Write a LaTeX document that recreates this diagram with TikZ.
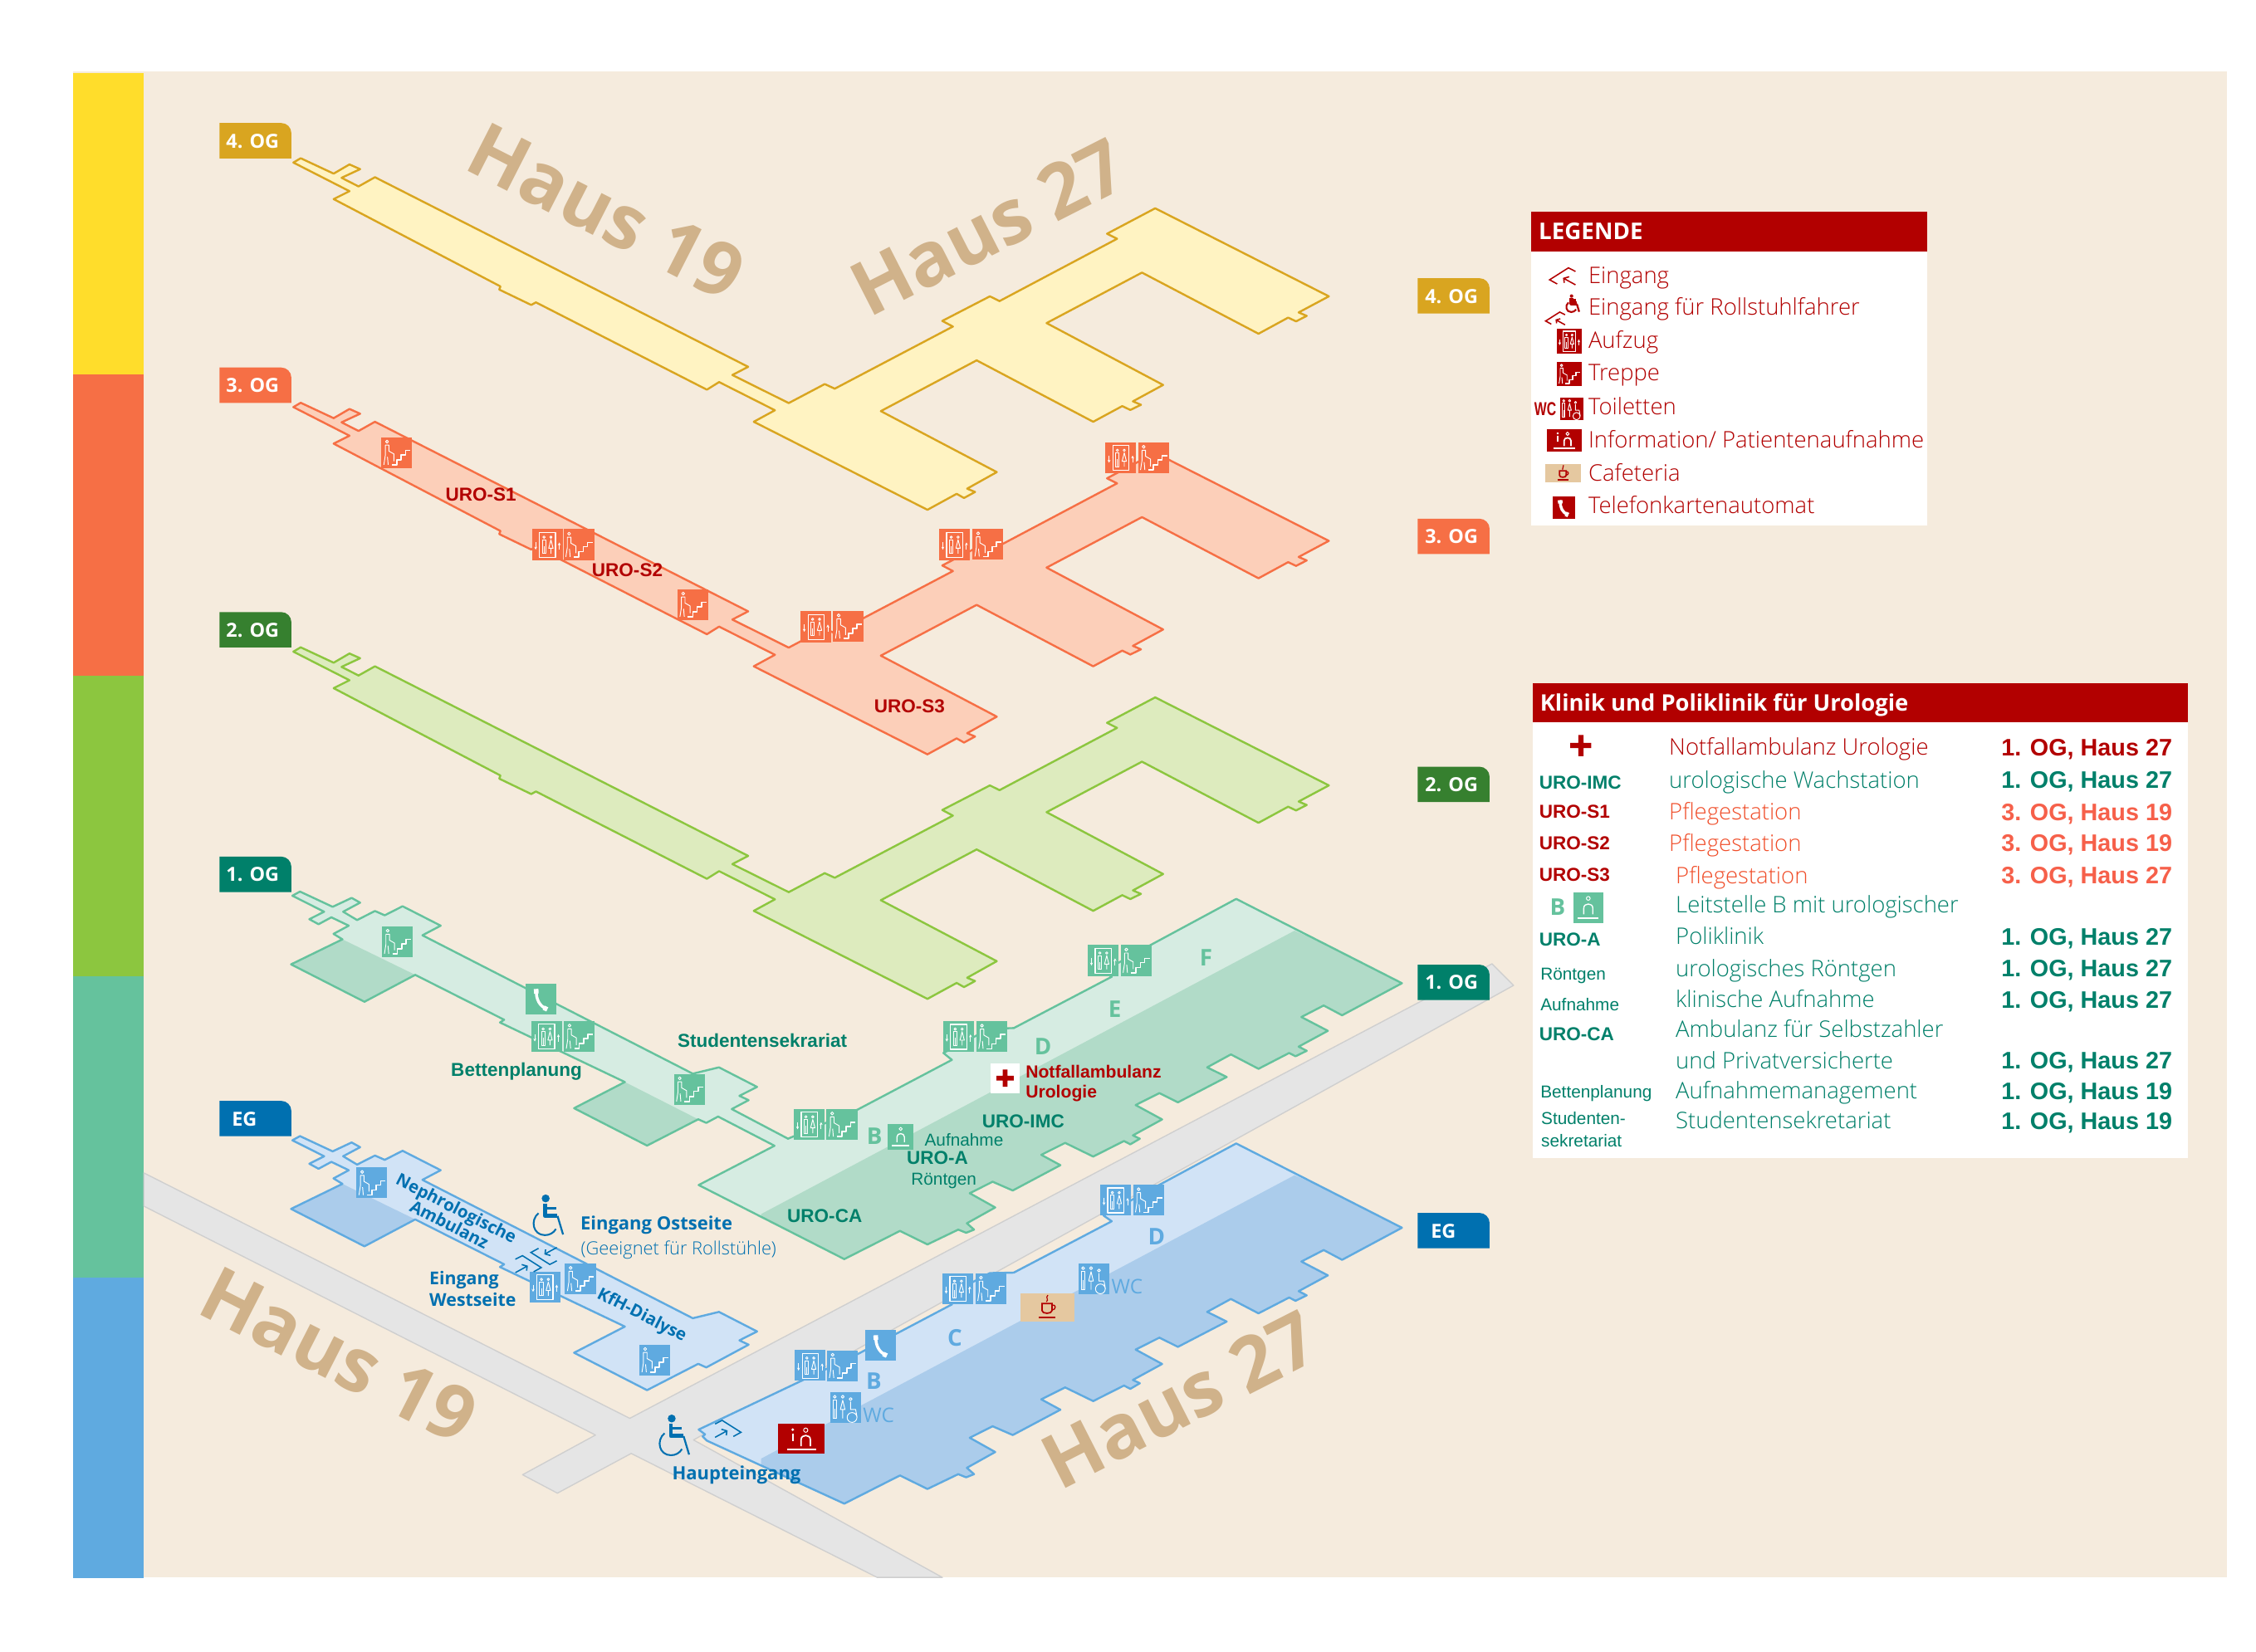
\documentclass[tikz,border=0pt]{standalone}
\usepackage{fontspec}
\setmainfont{Liberation Sans}
\newfontfamily\signfont{Open Sans}
\newfontfamily\thinfont{Open Sans Light}
\usetikzlibrary{arrows.meta}

\definecolor{paper}{HTML}{F5EBDD}
\definecolor{barfour}{HTML}{FFDD2B}
\definecolor{strokefour}{HTML}{D9A520}
\definecolor{fillfour}{HTML}{FFF3C2}
\definecolor{strokethree}{HTML}{F66F45}
\definecolor{fillthree}{HTML}{FCCFB9}
\definecolor{strokegreen}{HTML}{8CC63F}
\definecolor{tagtwo}{HTML}{36802F}
\definecolor{fillgreen}{HTML}{DDEBBE}
\definecolor{stroketeal}{HTML}{65C29D}
\definecolor{tagteal}{HTML}{00806A}
\definecolor{lightteal}{HTML}{D6ECE2}
\definecolor{darkteal}{HTML}{B1DBC8}
\definecolor{strokeblue}{HTML}{5FAAE0}
\definecolor{tagblue}{HTML}{0070B0}
\definecolor{lightblue}{HTML}{D1E3F6}
\definecolor{darkblue}{HTML}{ABCCEB}
\definecolor{signred}{HTML}{B20000}
\definecolor{nurseorange}{HTML}{F6604A}
\definecolor{nursethin}{HTML}{F04E2A}
\definecolor{hausbrown}{HTML}{D0B28A}
\definecolor{cafetan}{HTML}{E5C8A0}
\definecolor{roadfill}{HTML}{E5E5E5}
\definecolor{roadline}{HTML}{CFCFCF}

\tikzset{
	outline/.style={line width=1.4pt, line join=round},
	iconline/.style={draw=white, line width=.55pt, line join=round, fill=none},
	hausname/.style={font=\signfont\bfseries\fontsize{52.5}{60}\selectfont, text=hausbrown, inner sep=0pt},
	tagtext/.style={font=\signfont\bfseries\fontsize{13.5}{15}\selectfont, text=white, inner sep=0pt, anchor=west, text height=10pt, text depth=0pt},
	arial/.style={font=\fontsize{13}{15}\selectfont\bfseries, inner sep=0pt, text height=9.5pt, text depth=0pt},
	arialthin/.style={font=\fontsize{12}{14}\selectfont, inner sep=0pt, text height=8.6pt, text depth=0pt},
	letter/.style={font=\signfont\bfseries\fontsize{16}{18}\selectfont, inner sep=0pt},
	sign/.style={font=\signfont\bfseries\fontsize{12.7}{15}\selectfont, text=tagblue, inner sep=0pt, text height=9.5pt, text depth=0pt},
	legendrow/.style={font=\thinfont\fontsize{15.85}{18}\selectfont, text=signred, inner sep=0pt, anchor=west, text height=11pt, text depth=0pt},
	clinicrow/.style={font=\thinfont\fontsize{15.85}{18}\selectfont, inner sep=0pt, anchor=west, text height=9.5pt, text depth=0pt},
	where/.style={font=\fontsize{16.6}{18}\selectfont\bfseries, inner sep=0pt, anchor=west, text height=10.4pt, text depth=0pt},
	heading/.style={font=\signfont\bfseries\fontsize{16}{18}\selectfont, text=white, inner sep=0pt, anchor=west, text height=11.5pt, text depth=0pt},
	pics/treppe/.style={code={
		\fill[#1] (-10.7,-10.7) rectangle (10.7,10.7);
		\draw[iconline] (-6.8,-7.6) circle (1);
		\draw[iconline] (-8,-5.2) -- (-5.5,-5.2) -- (-5.5,-1) -- (-2,1) -- (-2,6) (-8,-5.2) -- (-8,2) -- (-9,8.5) (-6.5,3) -- (-6,8.5);
		\draw[iconline, line width=.9pt] (-3.5,8.5) -- (0,8.5) -- (0,5) -- (3,5) -- (3,1.5) -- (6,1.5) -- (6,-1.5) -- (9.5,-1.5);
	}},
	pics/aufzug/.style={code={
		\fill[#1] (-10.7,-10.7) rectangle (10.7,10.7);
		\draw[iconline, line width=.7pt] (-5.6,-8.5) rectangle (5.6,8.8);
		\draw[iconline] (-2.4,-5.2) circle (.8) (2.4,-5.2) circle (.8);
		\draw[iconline] (-3.6,-3.4) rectangle (-1.2,6.2) (-2.4,1) -- (-2.4,6.2);
		\draw[iconline] (2.4,-3.4) -- (.9,2.5) -- (3.9,2.5) -- cycle (2.4,2.5) -- (2.4,6.2);
		\draw[iconline, -{Stealth[length=2pt,width=2pt]}] (-8.2,-1.5) -- (-8.2,3.5);
		\draw[iconline, -{Stealth[length=2pt,width=2pt]}] (8.2,3.5) -- (8.2,-1.5);
	}},
	pics/toilette/.style={code={
		\fill[#1] (-10.7,-10.7) rectangle (10.7,10.7);
		\draw[iconline] (-7.5,-7.4) circle (1) (-2,-7.4) circle (1) (3.5,-5.8) circle (1);
		\draw[iconline] (-8.8,-5) rectangle (-6.2,7.6) (-7.5,1) -- (-7.5,7.6);
		\draw[iconline] (-2,-5) -- (-3.6,1.5) -- (-.4,1.5) -- cycle (-2,1.5) -- (-2,7.6);
		\draw[iconline] (3.5,-4) -- (3.5,1.5) -- (7,1.5) -- (8,7) (4.5,7) circle (3.4);
	}},
	pics/telefon/.style={code={
		\fill[#1] (-10.7,-10.7) rectangle (10.7,10.7);
		\draw[white, line width=2pt, line cap=round] (-3.2,-5.8) .. controls (-3.6,0) and (-.8,5) .. (3.4,6.6);
		\draw[white, line width=3.2pt] (-3.4,-7) -- (-3.2,-3.8) (1.8,6) -- (4.4,7.2);
	}},
	pics/infotheke/.style={code={
		\fill[signred] (-16,-10.5) rectangle (16,10.5);
		\fill[white] (-6,-6.4) circle (1);
		\draw[iconline, line width=1pt] (-6,-3.8) -- (-6,1.5);
		\draw[iconline] (3,-6) circle (1.5);
		\draw[iconline, line width=1pt] (-.2,5.2) -- (-.2,.5) .. controls (-.2,-3.2) and (6.2,-3.2) .. (6.2,.5) -- (6.2,5.2);
		\draw[iconline, line width=1.2pt] (-10,7.3) -- (10,7.3);
	}},
	pics/leitstelle/.style={code={
		\fill[stroketeal] (-8.8,-8.8) rectangle (8.8,8.8);
		\draw[iconline] (0,-5.4) circle (1.1);
		\draw[iconline, line width=.8pt] (-2.6,3.8) -- (-2.6,.2) .. controls (-2.6,-2.9) and (2.6,-2.9) .. (2.6,.2) -- (2.6,3.8);
		\draw[iconline, line width=1pt] (-6,6) -- (6,6);
	}},
	pics/cafe/.style={code={
		\fill[cafetan] (-18.7,-9.8) rectangle (18.7,9.8);
		\draw[signred, line width=.7pt] (.5,-8.5) .. controls (-1.5,-6.5) and (1.5,-5.5) .. (-.5,-3.8);
		\draw[signred, line width=1pt] (-3.6,-2.6) -- (-3.6,2.2) .. controls (-3.6,4.8) and (3.4,4.8) .. (3.4,2.2) -- (3.4,-2.6) -- cycle;
		\draw[signred, line width=.8pt] (3.4,-1.6) .. controls (6.4,-2.2) and (6.4,1.8) .. (3.2,2);
		\draw[signred, line width=1.2pt] (-5.6,7) -- (5.6,7);
	}},
	pics/rollstuhl/.style={code={
		\fill[#1] (-1.5,-10.8) circle (2.5);
		\draw[#1, line width=2.8pt, line join=round] (-2,-7.5) -- (-2,.3) -- (6,.3);
		\draw[#1, line width=1.8pt] (-2,-4.6) -- (5,-4.6);
		\draw[#1, line width=1.3pt] (6,.3) -- (9.5,12);
		\draw[#1, line width=1.2pt] (-6,-1.5) .. controls (-11.5,3) and (-9.5,12.4) .. (-2,12.4) .. controls (1,12.4) and (3.5,11) .. (5,8.5);
	}},
	pics/eingang/.style={code={
		\draw[#1, line width=.9pt, line join=miter] (-3.7,5.4) -- (-9,2.5) -- (4.1,-5.8) -- (9,-3.3);
		\draw[#1, line width=.9pt] (9,6) -- (.8,1.5) (1.2,4.6) -- (.8,1.5) -- (4.6,.4);
	}}
}

\newcommand{\floortag}[5]{
	\fill[#4] (#2,#3) [rounded corners=7pt] -- ++(50,0) [sharp corners] -- ++(0,24.6) -- ++(-50,0) -- cycle;
	\node[tagtext] (#1) at (#2+#5,#3+12.3) {\MakeUppercase{\tagname}};
}
\newcommand{\tagname}{}

% same floor plan on 2., 3. and 4. OG
\newcommand{\upperplan}{(203.9,113) -- (209,110) -- (231.9,120.7) -- (242.9,114.3) -- (250.3,117.6) -- (237.4,123.6) -- (249.2,129.6) -- (260.6,123.2) -- (520,255) -- (509,260.7) -- (548.2,280.2) -- (573.2,267) -- (580.2,270.2) -- (662.3,227) -- (654.9,223.1) -- (688,206) -- (694.7,209.3) -- (776.4,166) -- (769.4,162.5) -- (802.9,144.8) -- (923.6,206) -- (902.6,217.2) -- (908.2,219.6) -- (900.8,223.4) -- (895.3,220.8) -- (874.7,232) -- (793.7,189.5) -- (727.4,224.6) -- (808.4,267.6) -- (787.4,279) -- (793,281.4) -- (785.6,285) -- (780,282.3) -- (759.8,293.2) -- (678.8,250.5) -- (612.2,285.8) -- (692.8,328.2) -- (672.2,339.7) -- (677.7,342) -- (670,346.2) -- (664.9,343.3) -- (644.6,354.4) -- (523.9,293.2) -- (538.6,285.2) -- (499.8,265.6) -- (491.3,270.9) -- (372.5,210.2) -- (369.2,212) -- (347,201.3) -- (347.8,199.1) -- (231.9,138.4) -- (242.9,132.9) -- cycle}
% Haus 19, north side down to the last notch, lower side back to the tip
\newcommand{\westtop}{(203.2,622.7) -- (208.5,619.8) -- (231.2,630.4) -- (244.4,624.2) -- (250.3,627.5) -- (238.5,633.8) -- (248.2,639.6) -- (260.6,633.3) -- (267.4,636.3) -- (279.8,630) -- (306.3,643.5) -- (293.6,650.2) -- (481.5,746.4) -- (499.7,742) -- (526.2,755.6) -- (513.9,761.8) -- (520.3,764.8)}
\newcommand{\westlow}{(490.9,780.6) -- (485.3,778.1) -- (449.7,796.4) -- (399,770.4) -- (434.3,752.2) -- (347.5,710.8) -- (350.4,708.9) -- (288.6,677.7) -- (253.3,696.4) -- (202.3,670.4) -- (238,653) -- (231.8,649.2) -- (242.4,643.5) -- (230.3,637.7) -- (221.4,642.5) -- (215,639) -- (225.3,633.8) -- cycle}
% Haus 27, from the roof side round to the south corner
\newcommand{\eastbody}{(661.6,736.8) -- (655.7,732) -- (688,715) -- (704.6,714.7) -- (772.7,679) -- (767,675) -- (799.6,657) -- (859.2,624.9) -- (974.4,683.5) -- (932.8,705.8) -- (920,699) -- (904.5,707) -- (922.9,716.6) -- (902.6,727.6) -- (908.2,730.5) -- (900.4,734.3) -- (896,732) -- (874.7,743) -- (855.5,733) -- (839,742) -- (852.6,748.7) -- (818.7,766.3) -- (805.8,759.9) -- (789.3,768.2) -- (807.7,778.2) -- (787.4,789.3) -- (792.2,791.6) -- (785.6,795.5) -- (781.2,793.2) -- (759.8,804) -- (740.3,794.5) -- (723.7,802.8) -- (737,810) -- (703.9,827.6) -- (689.9,821.5) -- (674,829.5) -- (691.7,839.4) -- (672,850.4) -- (677,854.8) -- (671.5,857) -- (666,854.8) -- (644.6,865.1) -- (625.5,855.7) -- (586.8,875.3)}
\newcommand{\eastshade}{(529,844) -- (899.7,647) -- (1000,690) -- (1000,900) -- (529,900) -- cycle}

\begin{document}
\begin{tikzpicture}[x=1pt, y=-1pt]
	\useasboundingbox (0,0) rectangle (1568,1148);
	\fill[white] (0,0) rectangle (1568,1148);
	\fill[paper] (51,49.7) rectangle (1547.7,1096.6);
	\fill[barfour] (51,50.8) rectangle (100,260.3);
	\fill[strokethree] (51,260.3) rectangle (100,469.5);
	\fill[strokegreen] (51,469.5) rectangle (100,678.7);
	\fill[stroketeal] (51,678.7) rectangle (100,887.9);
	\fill[strokeblue] (51,887.9) rectangle (100,1097);

	% roads
	\filldraw[fill=roadfill, draw=roadline, line width=.8pt, line join=round] (100,815.4) -- (437.7,986) -- (1037,670) -- (1052,685) -- (482,1001) -- (655,1096.6) -- (609.7,1096.6) -- (438.7,1010.4) -- (387.4,1038) -- (363.2,1025.2) -- (413.9,997.6) -- (100,838.5) -- cycle;

	\node[hausname, rotate=-27] (hausNW) at (421.5,147) {Haus 19};
	\node[hausname, rotate=27] (hausNE) at (687,158) {Haus 27};
	\node[hausname, rotate=-27] (hausSW) at (235.5,942) {Haus 19};
	\node[hausname, rotate=27] (hausSE) at (820,973) {Haus 27};

	% upper floors
	\filldraw[outline, draw=strokefour, fill=fillfour] \upperplan;
	\filldraw[outline, draw=strokethree, fill=fillthree, shift={(0,170)}] \upperplan;
	\filldraw[outline, draw=strokegreen, fill=fillgreen, shift={(0,340)}] \upperplan;

	% 1. OG
	\fill[lightteal] \westtop -- (508.6,771) -- (547.7,791.6) -- (596,771.4) -- \eastbody -- (485.6,823.8) -- (538.3,796.5) -- (499.1,776.2) -- \westlow;
	\fill[darkteal] (238,653) -- (288.6,677.7) -- (253.3,696.4) -- (202.3,670.4) -- cycle;
	\fill[darkteal] (434.3,752.2) -- (485.3,778.1) -- (449.7,796.4) -- (399,770.4) -- cycle;
	\begin{scope}
		\clip (485.6,823.8) -- (596,771.4) -- \eastbody -- cycle;
		\fill[darkteal] \eastshade;
	\end{scope}
	\draw[outline, draw=stroketeal] \westtop -- (508.6,771) -- (547.7,791.6) -- (596,771.4) -- \eastbody -- (485.6,823.8) -- (538.3,796.5) -- (499.1,776.2) -- \westlow;

	% EG
	\begin{scope}[shift={(0,170)}]
		\fill[lightblue] \westtop -- \westlow;
		\fill[darkblue] (238,653) -- (288.6,677.7) -- (253.3,696.4) -- (202.3,670.4) -- cycle;
		\draw[outline, draw=strokeblue] \westtop -- \westlow;
		\fill[lightblue] (485.6,823.8) -- (596,771.4) -- \eastbody -- (491.3,831.5) -- (488.4,828.6) -- (490,827.1) -- cycle;
		\begin{scope}
			\clip (485.6,823.8) -- (596,771.4) -- \eastbody -- (491.3,831.5) -- cycle;
			\fill[darkblue] \eastshade;
		\end{scope}
		\draw[outline, draw=strokeblue] (485.6,823.8) -- (596,771.4) -- \eastbody -- (491.3,831.5) -- (488.4,828.6) -- (490,827.1) -- cycle;
	\end{scope}

	% floor tags
	\renewcommand{\tagname}{4. OG}
	\floortag{tagfourL}{152.5}{85.5}{strokefour}{4.5}
	\floortag{tagfourR}{985.3}{193.4}{strokefour}{5}
	\renewcommand{\tagname}{3. OG}
	\floortag{tagthreeL}{152.5}{255.5}{strokethree}{4.5}
	\floortag{tagthreeR}{985.3}{360.6}{strokethree}{5}
	\renewcommand{\tagname}{2. OG}
	\floortag{tagtwoL}{152.5}{425.5}{tagtwo}{4.5}
	\floortag{tagtwoR}{985.3}{533}{tagtwo}{5}
	\renewcommand{\tagname}{1. OG}
	\floortag{tagoneL}{152.5}{595.5}{tagteal}{4.5}
	\floortag{tagoneR}{985.3}{670.6}{tagteal}{5}
	\renewcommand{\tagname}{EG}
	\floortag{tagegL}{152.5}{765.3}{tagblue}{8.5}
	\floortag{tagegR}{985.3}{843.2}{tagblue}{9}

	% 3. OG
	\pic at (275.8,314.6) {treppe=strokethree};
	\pic at (380.5,378.6) {aufzug=strokethree};
	\pic at (402.3,378.6) {treppe=strokethree};
	\pic at (481.6,420.2) {treppe=strokethree};
	\pic at (567.2,435.7) {aufzug=strokethree};
	\pic at (589.7,435.4) {treppe=strokethree};
	\pic at (663.5,378.6) {aufzug=strokethree};
	\pic at (686.6,378.4) {treppe=strokethree};
	\pic at (779,318.2) {aufzug=strokethree};
	\pic at (801.7,318.2) {treppe=strokethree};
	\node[arial, text=signred] (uroSone) at (334.2,343.8) {URO-S1};
	\node[arial, text=signred] (uroStwo) at (436,396) {URO-S2};
	\node[arial, text=signred] (uroSthree) at (632.1,490.8) {URO-S3};

	% 1. OG
	\pic at (276.2,654.6) {treppe=stroketeal};
	\pic at (376,694.5) {telefon=stroketeal};
	\pic at (379.9,720.5) {aufzug=stroketeal};
	\pic at (402.6,720.5) {treppe=stroketeal};
	\pic at (479.2,757.2) {treppe=stroketeal};
	\pic at (562.5,781.6) {aufzug=stroketeal};
	\pic at (585.2,781.6) {treppe=stroketeal};
	\pic at (666.3,720.6) {aufzug=stroketeal};
	\pic at (689.3,720.6) {treppe=stroketeal};
	\pic at (766.8,667.7) {aufzug=stroketeal};
	\pic at (789.6,667.7) {treppe=stroketeal};
	\pic at (626,790.2) {leitstelle};
	\fill[white] (688.4,739) rectangle (708.7,760);
	\fill[signred] (696.9,743.5) rectangle (700.3,755.5) (692.6,747.8) rectangle (704.6,751.2);
	\node[letter, text=stroketeal] (bedB) at (607.8,789.7) {B};
	\node[letter, text=stroketeal] (bedD) at (724.9,727.6) {D};
	\node[letter, text=stroketeal] (bedE) at (774.9,701.6) {E};
	\node[letter, text=stroketeal] (bedF) at (838.2,665.6) {F};
	\node[arial, text=tagteal] (uroCA) at (573.2,845) {URO-CA};
	\node[arial, text=tagteal] (uroA) at (651.6,804.7) {URO-A};
	\node[arial, text=tagteal] (uroIMC) at (711.2,779.5) {URO-IMC};
	\node[arialthin, text=tagteal] (roentgen) at (656,819.5) {Röntgen};
	\node[arialthin, text=tagteal] (aufnahme) at (670,792.6) {Aufnahme};
	\node[arial, text=signred, font=\fontsize{12.2}{14}\selectfont\bfseries, anchor=west] (notfall) at (712.7,744.5) {Notfallambulanz};
	\node[arial, text=signred, font=\fontsize{12.2}{14}\selectfont\bfseries, anchor=west] (urologie) at (712.7,758.6) {Urologie};
	\node[arial, text=tagteal] (studenten) at (529.8,723.2) {Studentensekrariat};
	\node[arial, text=tagteal] (betten) at (359,743.2) {Bettenplanung};

	% EG Haus 19
	\pic at (258.5,822.3) {treppe=strokeblue};
	\pic at (378.7,894.6) {aufzug=strokeblue};
	\pic at (403.4,889) {treppe=strokeblue};
	\pic at (455.2,945.4) {treppe=strokeblue};
	\pic[scale=1.1] at (380.9,845) {rollstuhl=tagblue};
	\pic[yscale=-1] at (378,873.2) {eingang=tagblue};
	\pic[xscale=-1] at (367.2,878.7) {eingang=tagblue};
	\node[sign, rotate=-27, font=\signfont\bfseries\fontsize{11.8}{14}\selectfont] (nephro) at (317.5,839.6) {Nephrologische};
	\node[sign, rotate=-27, font=\signfont\bfseries\fontsize{11.8}{14}\selectfont] (ambulanz) at (312.5,850.7) {Ambulanz};
	\node[sign, rotate=-27, font=\signfont\bfseries\fontsize{11.8}{14}\selectfont] (kfh) at (446.7,913.2) {KfH-Dialyse};
	\node[sign, anchor=west] (ostseite) at (403.2,850.2) {Eingang Ostseite};
	\node[sign, anchor=west, font=\thinfont\fontsize{12.6}{15}\selectfont] (geeignet) at (403.6,867.4) {(Geeignet für Rollstühle)};
	\node[sign, anchor=west, font=\signfont\bfseries\fontsize{12.3}{15}\selectfont] (eingangW) at (298.3,888.2) {Eingang};
	\node[sign, anchor=west, font=\signfont\bfseries\fontsize{12.3}{15}\selectfont] (westseite) at (298.3,903.6) {Westseite};

	% EG Haus 27
	\pic at (775.5,834.3) {aufzug=strokeblue};
	\pic at (798.2,834.3) {treppe=strokeblue};
	\pic at (665.8,895.8) {aufzug=strokeblue};
	\pic at (688.6,895.8) {treppe=strokeblue};
	\pic at (563.2,949.3) {aufzug=strokeblue};
	\pic at (585.5,949.4) {treppe=strokeblue};
	\pic at (612,935.2) {telefon=strokeblue};
	\pic at (760.3,889) {toilette=strokeblue};
	\pic at (587.7,978.4) {toilette=strokeblue};
	\pic at (727.8,908.8) {cafe};
	\pic at (557,1000.2) {infotheke};
	\pic[xscale=-1] at (506,993.2) {eingang=tagblue};
	\pic[scale=1.1] at (468.5,998) {rollstuhl=tagblue};
	\node[letter, text=strokeblue] (haltB) at (607.4,960) {B};
	\node[letter, text=strokeblue] (haltC) at (663.7,930) {C};
	\node[letter, text=strokeblue] (haltD) at (803.8,859.6) {D};
	\node[letter, text=strokeblue, font=\signfont\fontsize{14}{16}\selectfont] (wcright) at (783.3,894.6) {WC};
	\node[letter, text=strokeblue, font=\signfont\fontsize{14}{16}\selectfont] (wcleft) at (610.7,984) {WC};
	\node[sign, anchor=west] (haupt) at (467,1024) {Haupteingang};

	% Legende
	\fill[white] (1064,174.7) rectangle (1339.3,365.5);
	\fill[signred] (1064,147.2) rectangle (1339.3,174.7);
	\node[heading] (legende) at (1069.3,160.9) {LEGENDE};
	\pic at (1086,192) {eingang=signred};
	\pic[scale=.48] at (1093,211) {rollstuhl=signred};
	\pic[scale=.75] at (1081,221.3) {eingang=signred};
	\pic[scale=.81] at (1090.7,237.1) {aufzug=signred};
	\pic[scale=.79] at (1090.7,260) {treppe=signred};
	\pic[scale=.74] at (1092.4,284.1) {toilette=signred};
	\pic[scale=.76] at (1087.2,306.1) {infotheke};
	\pic[scale=.66] at (1086.3,329) {cafe};
	\pic[scale=.73] at (1086.8,352.8) {telefon=signred};
	\node[arial, text=signred, xscale=.7, font=\fontsize{13}{14}\selectfont\bfseries] (wclegend) at (1074,284) {WC};
	\node[legendrow] (eingang) at (1103.8,191.8) {Eingang};
	\node[legendrow] (rollstuhl) at (1103.8,213.5) {Eingang für Rollstuhlfahrer};
	\node[legendrow] (aufzug) at (1103.8,236.6) {Aufzug};
	\node[legendrow] (treppe) at (1103.8,259.3) {Treppe};
	\node[legendrow] (toiletten) at (1103.8,282.8) {Toiletten};
	\node[legendrow] (information) at (1103.8,305.9) {Information/ Patientenaufnahme};
	\node[legendrow] (cafeteria) at (1103.8,329) {Cafeteria};
	\node[legendrow] (telefon) at (1103.8,351.5) {Telefonkartenautomat};

	% Klinik
	\fill[white] (1065.3,502) rectangle (1520.6,805.3);
	\fill[signred] (1065.3,474.9) rectangle (1520.6,502);
	\node[heading, font=\signfont\bfseries\fontsize{15.8}{18}\selectfont] (klinik) at (1070.2,488.8) {Klinik und Poliklinik für Urologie};

	\fill[signred] (1097,511) rectangle (1100.6,525.6) (1091.4,516.5) rectangle (1106,520);
	\node[letter, text=stroketeal] (leitB) at (1082.6,630.4) {B};
	\pic[scale=1.2] at (1103.9,631) {leitstelle};
	\node[arial, anchor=west, text=tagteal] (kurzIMC) at (1069.6,543.8) {URO-IMC};
	\node[arial, anchor=west, text=signred] (kurzSone) at (1069.6,564.1) {URO-S1};
	\node[arial, anchor=west, text=signred] (kurzStwo) at (1069.6,586.2) {URO-S2};
	\node[arial, anchor=west, text=signred] (kurzSthree) at (1069.6,607.9) {URO-S3};
	\node[arial, anchor=west, text=tagteal] (kurzA) at (1069.6,652.9) {URO-A};
	\node[arialthin, anchor=west, text=tagteal] (kurzRoe) at (1070.5,677.2) {Röntgen};
	\node[arialthin, anchor=west, text=tagteal] (kurzAuf) at (1070.5,698.2) {Aufnahme};
	\node[arial, anchor=west, text=tagteal] (kurzCA) at (1069.6,718.5) {URO-CA};
	\node[arialthin, anchor=west, text=tagteal] (kurzBett) at (1070.5,758.9) {Bettenplanung};
	\node[arialthin, anchor=west, text=tagteal] (kurzStudA) at (1071,777.5) {Studenten-};
	\node[arialthin, anchor=west, text=tagteal] (kurzStudB) at (1071,792.7) {sekretariat};

	\node[clinicrow, text=signred] (nameNot) at (1159.9,520) {Notfallambulanz Urologie};
	\node[clinicrow, text=tagteal] (nameWach) at (1159.9,543) {urologische Wachstation};
	\node[clinicrow, text=nursethin] (namePflA) at (1159.9,565.2) {Pflegestation};
	\node[clinicrow, text=nursethin] (namePflB) at (1159.9,586.9) {Pflegestation};
	\node[clinicrow, text=nursethin] (namePflC) at (1164.5,609.6) {Pflegestation};
	\node[clinicrow, text=tagteal] (nameLeit) at (1164.5,629.7) {Leitstelle B mit urologischer};
	\node[clinicrow, text=tagteal] (namePoli) at (1164.5,651.8) {Poliklinik};
	\node[clinicrow, text=tagteal] (nameRoe) at (1164.5,674.3) {urologisches Röntgen};
	\node[clinicrow, text=tagteal] (nameAuf) at (1164.5,695.8) {klinische Aufnahme};
	\node[clinicrow, text=tagteal] (nameSelb) at (1164.5,716.3) {Ambulanz für Selbstzahler};
	\node[clinicrow, text=tagteal] (namePriv) at (1164.5,738.2) {und Privatversicherte};
	\node[clinicrow, text=tagteal] (nameMan) at (1164.5,758.9) {Aufnahmemanagement};
	\node[clinicrow, text=tagteal] (nameStud) at (1164.5,779.7) {Studentensekretariat};

	\node[where, text=signred] (ortNot) at (1390.8,520) {1. OG, Haus 27};
	\node[where, text=tagteal] (ortWach) at (1390.8,542.5) {1. OG, Haus 27};
	\node[where, text=nurseorange] (ortPflA) at (1390.8,565) {3. OG, Haus 19};
	\node[where, text=nurseorange] (ortPflB) at (1390.8,586.9) {3. OG, Haus 19};
	\node[where, text=nurseorange] (ortPflC) at (1390.8,609.4) {3. OG, Haus 27};
	\node[where, text=tagteal] (ortPoli) at (1390.8,651.8) {1. OG, Haus 27};
	\node[where, text=tagteal] (ortRoe) at (1390.8,674) {1. OG, Haus 27};
	\node[where, text=tagteal] (ortAuf) at (1390.8,695.8) {1. OG, Haus 27};
	\node[where, text=tagteal] (ortPriv) at (1390.8,738) {1. OG, Haus 27};
	\node[where, text=tagteal] (ortMan) at (1390.8,758.9) {1. OG, Haus 19};
	\node[where, text=tagteal] (ortStud) at (1390.8,779.7) {1. OG, Haus 19};
\end{tikzpicture}
\end{document}
